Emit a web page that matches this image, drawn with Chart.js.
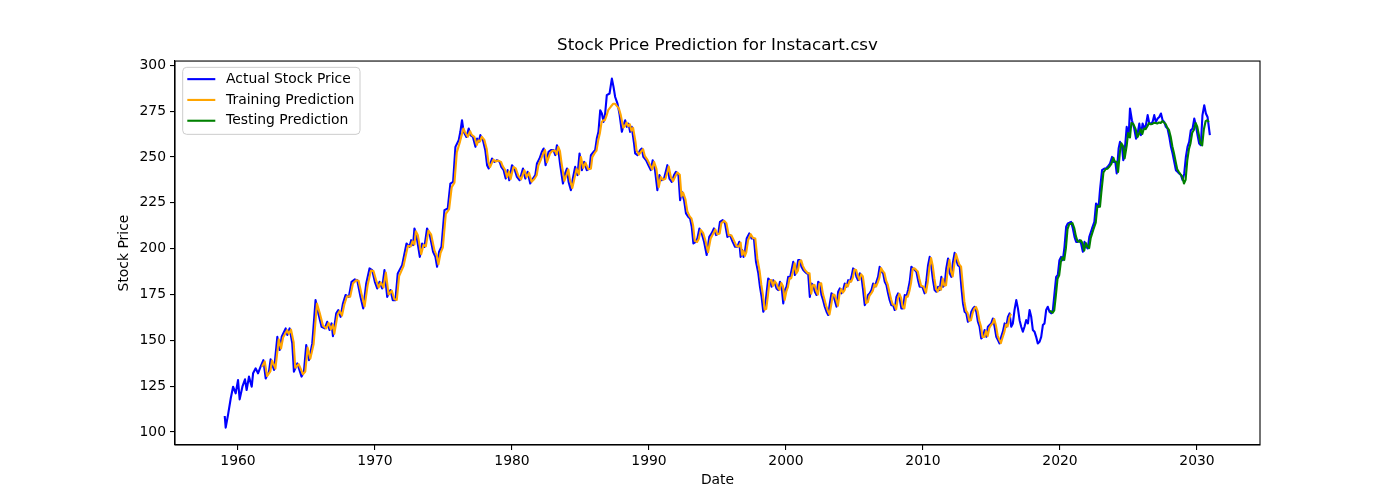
<!DOCTYPE html>
<html><head><meta charset="utf-8">
<script src="https://cdn.jsdelivr.net/npm/chart.js@4.4.1/dist/chart.umd.min.js"></script>
<style>html,body{margin:0;padding:0;background:#fff;}#wrap{width:1400px;height:500px;}</style>
</head><body><div id="wrap"><canvas id="c" width="1400" height="500"></canvas></div>
<script>
const chartTitle = 'Stock Price Prediction for Instacart.csv';
const xLabel = 'Date';
const yLabel = 'Stock Price';
const seriesLabels = ['Actual Stock Price', 'Training Prediction', 'Testing Prediction'];
const xTicks = [1960, 1970, 1980, 1990, 2000, 2010, 2020, 2030];
const yTicks = [100, 125, 150, 175, 200, 225, 250, 275, 300];

const actualYears = [1959.03,1959.10,1959.27,1959.47,1959.64,1959.83,1960.00,1960.12,1960.32,1960.51,1960.63,1960.80,1961.00,1961.10,1961.29,1961.46,1961.65,1961.85,1962.02,1962.26,1962.38,1962.63,1962.87,1963.04,1963.19,1963.48,1963.60,1963.77,1963.96,1964.08,1964.33,1964.64,1964.81,1964.98,1965.18,1965.42,1965.66,1965.86,1966.10,1966.34,1966.51,1966.68,1966.83,1966.93,1967.17,1967.32,1967.49,1967.66,1967.85,1968.09,1968.29,1968.53,1968.70,1968.94,1969.14,1969.36,1969.60,1969.79,1969.99,1970.16,1970.33,1970.52,1970.69,1970.89,1971.13,1971.30,1971.49,
1971.66,1971.98,1972.30,1972.51,1972.64,1972.78,1972.88,1973.02,1973.27,1973.44,1973.61,1973.80,1974.00,1974.24,1974.41,1974.53,1974.68,1974.85,1975.07,1975.31,1975.50,1975.70,1975.87,1976.11,1976.23,1976.35,1976.47,1976.67,1976.84,1976.96,1977.15,1977.33,1977.45,1977.57,1977.69,1977.88,1978.05,1978.18,1978.30,1978.54,1978.71,1978.90,1979.10,1979.22,1979.39,1979.54,1979.68,1979.80,1980.00,1980.17,1980.36,1980.56,1980.80,1980.97,1981.14,1981.33,1981.53,1981.70,1981.82,1982.01,1982.18,1982.31,1982.45,1982.67,1982.84,1983.03,1983.16,1983.28,1983.40,1983.52,
1983.72,1983.88,1984.01,1984.13,1984.30,1984.44,1984.61,1984.78,1984.93,1985.10,1985.27,1985.46,1985.66,1985.76,1985.95,1986.07,1986.19,1986.31,1986.44,1986.56,1986.68,1986.80,1986.92,1987.12,1987.29,1987.41,1987.53,1987.70,1987.84,1988.02,1988.14,1988.26,1988.38,1988.50,1988.62,1988.74,1988.91,1988.99,1989.16,1989.35,1989.47,1989.59,1989.79,1989.96,1990.13,1990.27,1990.44,1990.61,1990.76,1990.93,1991.10,1991.25,1991.34,1991.49,1991.66,1991.83,1991.97,1992.15,1992.27,1992.39,1992.56,1992.70,1992.87,1993.00,1993.12,1993.24,1993.41,1993.53,1993.68,1993.85,1994.02,1994.21,1994.40,1994.57,1994.74,1994.89,1995.06,1995.18,1995.38,1995.55,1995.72,1995.91,1996.11,1996.28,1996.45,1996.59,1996.69,1996.80,1996.90,1997.00,
1997.13,1997.32,1997.49,1997.66,1997.81,1997.98,1998.10,1998.22,1998.34,1998.46,1998.58,1998.70,1998.83,1998.95,1999.07,1999.19,1999.31,1999.43,1999.56,1999.68,1999.80,1999.92,2000.04,2000.16,2000.28,2000.41,2000.53,2000.65,2000.77,2000.89,2001.01,2001.13,2001.26,2001.38,2001.50,2001.62,2001.74,2001.86,2001.98,2002.11,2002.23,2002.35,2002.47,2002.59,2002.71,2002.83,2002.96,2003.08,2003.20,2003.32,2003.44,2003.56,2003.69,2003.81,2003.93,2004.05,2004.17,2004.29,2004.41,2004.54,2004.66,2004.78,2004.90,2005.02,2005.14,2005.26,2005.39,2005.51,2005.63,2005.75,2005.87,2005.99,2006.11,2006.24,2006.36,2006.48,2006.60,2006.72,2006.84,2006.97,2007.09,2007.21,2007.33,2007.45,2007.57,2007.69,2007.82,2007.94,2008.06,2008.18,2008.30,2008.42,2008.54,2008.67,2008.79,2008.91,2009.03,2009.15,2009.27,2009.40,2009.52,2009.64,2009.76,
2009.95,2010.12,2010.25,2010.37,2010.49,2010.61,2010.73,2010.85,2010.97,2011.10,2011.22,2011.34,2011.46,2011.58,2011.70,2011.83,2011.95,2012.07,2012.19,2012.31,2012.43,2012.55,2012.68,2012.80,2012.92,2013.04,2013.16,2013.28,2013.40,2013.53,2013.65,2013.77,2013.89,2014.01,2014.13,2014.25,2014.38,2014.50,2014.62,2014.74,2014.86,2014.98,2015.10,2015.23,2015.35,2015.47,2015.59,2015.71,2015.83,2015.96,2016.08,2016.20,2016.32,2016.44,2016.56,2016.68,2016.81,2016.93,2017.05,2017.17,2017.29,2017.41,2017.53,2017.66,2017.78,2017.90,2018.02,2018.14,2018.26,2018.38,2018.51,2018.63,2018.75,2018.87,2018.99,2019.11,2019.23,2019.36,2019.48,2019.60,2019.72,2019.84,2019.96,2020.08,2020.21,2020.33,2020.45,2020.57,2020.69,2020.81,2020.94,2021.06,2021.18,2021.30,2021.42,2021.54,2021.67,2021.79,2021.91,2022.03,
2022.14,2022.34,2022.51,2022.63,2022.82,2022.92,2023.07,2023.24,2023.36,2023.48,2023.65,2023.80,2023.89,2024.04,2024.14,2024.28,2024.38,2024.53,2024.62,2024.77,2024.87,2025.01,2025.11,2025.25,2025.42,2025.55,2025.67,2025.79,2025.91,2026.03,2026.15,2026.27,2026.40,2026.52,2026.64,2026.76,2026.88,2027.00,2027.13,2027.25,2027.37,2027.49,2027.61,2027.73,2027.85,2027.98,2028.10,2028.22,2028.34,2028.46,2028.58,2028.70,2028.83,2028.95,2029.07,2029.19,2029.31,2029.43,2029.55,2029.68,2029.80,2029.92,2030.04,2030.16,2030.28,2030.40,2030.53,2030.65,2030.77,2030.94];
const actualPrices = [108.7,102.4,109.3,118.4,124.7,121.1,128.3,117.8,124.7,128.7,122.9,130.2,124.7,132.0,134.7,132.0,135.6,139.2,129.2,132.9,139.6,133.8,151.9,144.7,151.9,156.5,152.9,156.5,148.3,132.9,137.4,130.2,132.9,147.4,139.2,148.3,171.9,164.7,157.4,156.5,160.1,155.6,159.2,152.3,164.7,166.5,162.8,170.1,174.7,173.7,181.9,183.2,182.8,173.7,167.4,181.0,189.2,188.3,181.9,178.3,181.9,178.3,188.3,173.7,177.4,171.9,171.9,
186.5,191.0,202.8,201.0,204.6,201.9,211.0,207.4,195.5,202.8,201.0,211.0,207.4,198.3,195.5,190.1,198.3,201.0,221.0,221.9,235.5,236.4,255.5,259.1,263.7,270.0,263.7,260.9,265.5,261.9,260.9,255.5,260.0,258.2,261.9,259.1,253.7,245.5,243.7,249.1,247.3,248.2,247.3,244.6,242.8,238.2,242.8,237.3,245.5,243.7,239.1,237.3,243.7,238.2,241.9,235.5,238.2,240.1,246.4,249.1,252.8,254.6,245.5,252.8,253.7,253.7,251.0,256.4,252.8,245.5,
235.5,241.0,243.7,236.4,231.9,238.2,244.6,240.1,251.9,242.8,247.3,242.8,243.7,251.0,252.8,253.7,260.0,263.7,275.5,273.7,269.1,273.7,283.7,284.6,292.7,288.2,282.7,279.1,273.7,263.7,267.3,270.0,266.4,268.2,263.7,266.4,257.3,251.9,251.0,253.7,254.6,250.0,248.2,245.5,242.8,248.2,242.8,231.9,240.1,237.3,238.2,242.8,245.5,238.2,236.4,240.1,241.9,240.1,226.4,231.0,226.4,219.2,217.3,216.4,211.9,202.8,203.7,205.5,211.0,208.3,203.7,196.5,206.4,208.3,211.0,207.4,208.3,214.6,215.5,213.7,206.4,207.4,203.7,201.0,201.0,203.7,195.5,199.2,195.5,198.3,
205.5,208.3,205.5,205.5,192.8,186.5,179.2,173.7,165.6,167.4,175.6,183.7,182.8,179.2,182.8,181.0,178.3,177.4,181.9,179.2,170.1,177.4,179.2,184.6,183.7,188.3,192.8,185.6,188.3,193.7,193.7,190.1,188.3,187.4,186.5,186.5,173.7,181.0,180.1,176.5,174.7,181.9,181.0,174.7,171.9,168.3,165.6,163.8,170.1,175.6,174.7,171.9,168.3,176.5,178.3,175.6,177.4,181.0,179.2,182.8,181.9,184.6,189.2,188.3,184.6,182.8,186.5,184.6,177.4,169.2,171.0,174.7,175.6,177.4,181.0,179.2,181.9,184.6,190.1,187.4,186.5,181.9,180.1,175.6,171.9,169.2,169.2,166.5,173.7,175.6,172.8,167.4,167.4,174.7,173.7,177.4,181.9,190.1,189.2,188.3,187.4,182.8,179.2,
179.2,175.6,182.8,191.0,195.5,190.1,182.8,177.4,176.5,179.2,177.4,184.6,179.2,180.1,189.2,194.6,186.5,184.6,192.8,197.7,193.7,191.0,190.1,179.2,170.1,165.6,164.7,160.1,161.0,165.6,167.4,168.3,165.6,160.1,157.4,151.0,151.9,155.6,151.9,157.4,158.3,159.2,161.9,157.4,151.9,150.1,148.3,151.9,154.7,159.2,157.4,162.8,164.7,157.4,159.2,166.5,171.9,167.4,161.0,157.4,154.7,157.4,161.0,159.2,166.5,162.8,155.6,154.7,151.9,148.3,149.2,151.9,158.3,159.2,166.5,168.3,165.6,164.7,166.5,175.6,184.6,185.6,193.7,195.5,193.7,201.0,211.9,213.7,214.1,214.6,211.0,206.4,203.7,203.7,204.6,202.8,198.3,203.7,201.0,200.1,
206.4,211.0,214.6,224.6,222.8,231.9,242.8,243.7,243.7,244.6,246.4,250.0,247.3,247.3,241.0,254.6,258.2,255.5,248.2,257.3,266.4,260.9,276.4,270.0,265.5,260.0,262.8,268.2,261.9,268.2,265.5,267.3,272.8,268.2,268.2,269.1,272.8,269.1,270.9,271.8,273.7,270.0,269.1,266.4,265.5,260.9,255.5,251.9,247.3,242.8,241.9,241.0,240.1,237.3,241.0,250.0,255.5,258.2,264.6,265.5,270.9,267.3,261.9,257.3,256.4,272.8,278.2,273.7,271.8,261.9];

const trainYears = [1961.75,1961.95,1962.12,1962.36,1962.48,1962.73,1962.97,1963.14,1963.29,1963.58,1963.70,1963.87,1964.06,1964.18,1964.43,1964.74,1964.91,1965.08,1965.28,1965.52,1965.76,1965.96,1966.20,1966.44,1966.61,1966.78,1966.93,1967.03,1967.27,1967.42,1967.59,1967.76,1967.95,1968.19,1968.39,1968.63,1968.80,1969.04,1969.24,1969.46,1969.70,1969.89,1970.09,1970.26,1970.43,1970.62,1970.79,1970.99,1971.23,1971.40,1971.59,1971.76,1972.08,1972.40,1972.61,1972.74,1972.88,1972.98,1973.12,1973.37,1973.54,1973.71,1973.90,1974.10,1974.34,1974.51,1974.63,1974.78,1974.95,1975.17,1975.41,1975.60,1975.80,1975.97,1976.21,1976.33,1976.45,1976.57,1976.77,1976.94,1977.06,1977.25,1977.43,1977.55,1977.67,1977.79,1977.98,1978.15,1978.28,1978.40,1978.64,1978.81,1979.00,1979.20,1979.32,1979.49,1979.64,1979.78,1979.90,1980.10,1980.27,1980.46,1980.66,1980.90,1981.07,1981.24,1981.43,1981.63,1981.80,1981.92,1982.11,1982.28,1982.41,1982.55,1982.77,1982.94,1983.13,1983.26,1983.38,1983.50,1983.62,
1983.82,1983.98,1984.11,1984.23,1984.40,1984.54,1984.71,1984.88,1985.03,1985.20,1985.37,1985.56,1985.76,1985.86,1986.05,1986.17,1986.29,1986.41,1986.54,1986.66,1986.78,1986.90,1987.02,1987.22,1987.39,1987.51,1987.63,1987.80,1987.94,1988.12,1988.24,1988.36,1988.48,1988.60,1988.72,1988.84,1989.01,1989.09,1989.26,1989.45,1989.57,1989.69,1989.89,1990.06,1990.23,1990.37,1990.54,1990.71,1990.86,1991.03,1991.20,1991.35,1991.44,1991.59,1991.76,1991.93,1992.07,1992.25,1992.37,1992.49,1992.66,1992.80,1992.97,1993.10,1993.22,1993.34,1993.51,1993.63,1993.78,1993.95,1994.12,1994.31,1994.50,1994.67,1994.84,1994.99,1995.16,1995.28,1995.48,1995.65,1995.82,1996.01,1996.21,1996.38,1996.55,1996.69,1996.79,1996.90,1997.00,1997.10,
1997.23,1997.42,1997.59,1997.76,1997.91,1998.08,1998.20,1998.32,1998.44,1998.56,1998.68,1998.80,1998.93,1999.05,1999.17,1999.29,1999.41,1999.53,1999.66,1999.78,1999.90,2000.02,2000.14,2000.26,2000.38,2000.51,2000.63,2000.75,2000.87,2000.99,2001.11,2001.23,2001.36,2001.48,2001.60,2001.72,2001.84,2001.96,2002.08,2002.21,2002.33,2002.45,2002.57,2002.69,2002.81,2002.93,2003.06,2003.18,2003.30,2003.42,2003.54,2003.66,2003.79,2003.91,2004.03,2004.15,2004.27,2004.39,2004.51,2004.64,2004.76,2004.88,2005.00,2005.12,2005.24,2005.36,2005.49,2005.61,2005.73,2005.85,2005.97,2006.09,2006.21,2006.34,2006.46,2006.58,2006.70,2006.82,2006.94,2007.07,2007.19,2007.31,2007.43,2007.55,2007.67,2007.79,2007.92,2008.04,2008.16,2008.28,2008.40,2008.52,2008.64,2008.77,2008.89,2009.01,2009.13,2009.25,2009.37,2009.50,2009.62,2009.74,2009.86,
2010.05,2010.22,2010.35,2010.47,2010.59,2010.71,2010.83,2010.95,2011.07,2011.20,2011.32,2011.44,2011.56,2011.68,2011.80,2011.93,2012.05,2012.17,2012.29,2012.41,2012.53,2012.65,2012.78,2012.90,2013.02,2013.14,2013.26,2013.38,2013.50,2013.63,2013.75,2013.87,2013.99,2014.11,2014.23,2014.35,2014.48,2014.60,2014.72,2014.84,2014.96,2015.08,2015.20,2015.33,2015.45,2015.57,2015.69,2015.81,2015.93,2016.06,2016.18,2016.30,2016.42];
const trainPrices = [135.6,138.5,130.5,133.0,139.0,134.5,150.5,145.5,151.5,155.5,153.5,155.8,149.0,135.0,137.0,131.5,133.0,146.0,140.0,148.0,170.0,165.0,158.0,156.5,159.5,156.0,158.5,153.5,164.0,166.0,163.5,169.5,174.0,173.8,181.0,182.8,182.5,174.5,168.5,180.0,188.0,187.8,182.5,178.8,181.5,178.8,187.0,175.0,177.0,172.5,172.0,185.0,190.5,201.5,201.2,204.0,202.3,209.5,207.5,197.0,202.0,201.3,209.8,207.6,199.0,196.0,191.5,197.5,200.5,219.0,221.5,233.5,236.0,252.5,258.5,262.0,265.5,263.5,261.0,264.0,262.0,261.0,256.5,259.0,258.5,261.0,259.3,254.5,247.0,244.5,248.5,247.5,248.0,247.3,245.0,243.0,239.0,242.0,238.0,244.5,243.8,239.8,237.8,242.8,239.0,241.3,236.5,238.0,240.0,245.3,248.6,252.0,253.8,247.0,251.8,253.3,253.5,251.5,255.5,253.2,246.5,
237.0,240.2,243.2,237.5,233.0,237.5,243.5,240.5,250.0,244.0,246.8,243.3,243.6,249.8,252.3,253.5,259.0,262.8,269.0,270.0,270.0,272.5,275.5,277.5,279.0,279.0,278.0,276.5,272.8,266.0,266.8,268.8,266.8,267.8,264.3,265.8,258.5,253.5,251.2,253.2,254.2,250.6,248.4,245.9,243.2,247.3,243.5,233.5,239.0,237.6,238.1,242.1,244.8,239.2,236.8,239.6,241.5,240.3,228.5,230.5,226.9,220.3,217.6,216.5,212.6,204.2,203.6,205.2,210.2,208.6,204.3,198.0,205.5,208.0,210.5,207.8,208.3,213.8,215.2,213.9,207.3,207.3,204.2,201.4,201.0,203.2,196.6,198.7,196.0,198.0,
204.5,207.9,205.8,205.5,194.5,187.5,180.2,174.5,166.7,167.2,174.5,182.5,182.9,179.7,182.3,181.2,178.7,177.5,181.3,179.5,172.0,176.5,179.0,183.9,183.8,187.7,192.0,186.5,188.0,193.0,193.6,190.6,188.6,187.5,186.6,186.5,175.4,180.0,180.2,177.0,175.0,181.0,181.1,175.5,172.3,168.8,166.0,164.1,169.3,174.9,174.8,172.3,168.8,175.4,178.0,176.0,177.2,180.5,179.4,182.3,182.0,184.2,188.6,188.3,185.1,183.0,186.0,184.8,178.3,170.3,170.8,174.2,175.4,177.1,180.5,179.4,181.6,184.2,189.4,187.7,186.6,182.5,180.3,176.2,172.4,169.5,169.2,166.9,172.8,175.3,173.1,168.1,167.4,173.8,173.8,176.9,181.3,189.0,189.3,188.4,187.5,183.4,179.7,
179.2,176.0,181.9,189.9,194.9,190.7,183.7,178.1,176.6,178.9,177.6,183.7,179.8,180.0,188.0,193.9,187.5,184.8,191.8,197.0,194.1,191.4,190.2,180.6,171.2,166.2,164.8,160.7,160.9,165.0,167.2,168.2,165.9,160.8,157.7,151.8,151.8,155.1,152.3,156.7,158.2,159.1,161.6,157.9,152.6,150.3,148.5,151.5,154.3,158.6,157.6,162.1,164.4];

const testYears = [2019.23,2019.33,2019.46,2019.58,2019.70,2019.82,2019.94,2020.06,2020.18,2020.31,2020.43,2020.55,2020.67,2020.79,2020.91,2021.04,2021.16,2021.28,2021.40,2021.52,2021.64,2021.77,2021.89,2022.01,2022.13,2022.24,2022.44,2022.61,2022.73,2022.92,2023.02,2023.17,2023.34,2023.46,2023.58,2023.75,2023.90,2023.99,2024.14,2024.24,2024.38,2024.48,2024.63,2024.72,2024.87,2024.97,2025.11,2025.21,2025.35,2025.52,2025.65,2025.77,2025.89,2026.01,2026.13,2026.25,2026.37,2026.50,2026.62,2026.74,2026.86,2026.98,2027.10,2027.23,2027.35,2027.47,2027.59,2027.71,2027.83,2027.95,2028.08,2028.20,2028.32,2028.44,2028.56,2028.68,2028.80,2028.93,2029.05,2029.17,2029.29,2029.41,2029.53,2029.65,2029.78,2029.90,2030.02,2030.14,2030.26,2030.38,2030.50,2030.63,2030.75,2030.87];
const testPrices = [166.0,165.8,165.0,166.3,174.5,183.5,185.4,192.7,195.2,193.9,200.1,210.6,213.2,213.6,213.9,211.2,206.8,204.0,203.7,204.5,203.0,198.9,203.0,201.2,200.3,205.7,210.5,214.2,223.3,222.9,230.8,241.5,243.4,243.6,244.5,246.2,249.5,247.5,247.3,241.8,253.0,257.5,255.6,249.2,256.2,263.0,260.6,268.5,268.0,265.2,260.8,262.5,265.0,262.5,265.5,265.2,266.6,268.5,267.8,268.0,268.6,268.5,268.2,268.8,268.5,269.5,268.8,268.0,266.0,264.8,261.0,255.8,252.0,247.6,243.2,241.8,240.5,239.2,235.5,237.5,248.0,254.2,257.5,263.2,264.8,268.5,266.5,262.0,257.5,256.3,265.0,269.5,270.0,269.1];

const seriesColors = ['#0000ff', '#ffa500', '#008000'];
const FONT = "'DejaVu Sans', Verdana, sans-serif";
Chart.defaults.font.family = FONT;
Chart.defaults.color = '#000';

const toPts = (xs, ys) => xs.map((x, i) => ({ x: x, y: ys[i] }));

const frameAndLegend = {
  id: 'frameAndLegend',
  afterDatasetsDraw(chart) {
    const { ctx, chartArea: a } = chart;
    ctx.save();
    ctx.strokeStyle = '#000';
    ctx.lineWidth = 1.1;
    ctx.strokeRect(a.left, a.top, a.right - a.left, a.bottom - a.top);
    ctx.restore();
  },
  afterDraw(chart) {
    const { ctx, chartArea: a } = chart;
    const bx = a.left + 7.7, by = a.top + 6.3, bw = 177.3, bh = 67, r = 4;
    ctx.save();
    ctx.beginPath();
    ctx.moveTo(bx + r, by);
    ctx.arcTo(bx + bw, by, bx + bw, by + bh, r);
    ctx.arcTo(bx + bw, by + bh, bx, by + bh, r);
    ctx.arcTo(bx, by + bh, bx, by, r);
    ctx.arcTo(bx, by, bx + bw, by, r);
    ctx.closePath();
    ctx.fillStyle = 'rgba(255,255,255,0.8)';
    ctx.fill();
    ctx.strokeStyle = '#cccccc';
    ctx.lineWidth = 1;
    ctx.stroke();
    ctx.font = '13.9px ' + FONT;
    ctx.textBaseline = 'middle';
    ctx.textAlign = 'left';
    chart.data.datasets.forEach((ds, i) => {
      const y = by + 11.8 + i * 20.8;
      ctx.strokeStyle = ds.borderColor;
      ctx.lineWidth = 2.1;
      ctx.beginPath();
      ctx.moveTo(bx + 4.6, y);
      ctx.lineTo(bx + 32.6, y);
      ctx.stroke();
      ctx.fillStyle = '#000';
      ctx.fillText(ds.label, bx + 43.4, y);
    });
    ctx.restore();
  }
};

const tickFont = { size: 13.9 };
new Chart(document.getElementById('c'), {
  type: 'line',
  data: {
    datasets: [
      { label: seriesLabels[0], data: toPts(actualYears, actualPrices), borderColor: seriesColors[0], order: 3 },
      { label: seriesLabels[1], data: toPts(trainYears, trainPrices), borderColor: seriesColors[1], order: 2 },
      { label: seriesLabels[2], data: toPts(testYears, testPrices), borderColor: seriesColors[2], order: 1 }
    ]
  },
  options: {
    responsive: false,
    animation: false,
    events: [],
    elements: { line: { borderWidth: 2.1, tension: 0, fill: false, borderJoinStyle: 'round', borderCapStyle: 'butt' }, point: { radius: 0 } },
    layout: { padding: { top: 36, left: 0, right: 140, bottom: 0 } },
    plugins: {
      legend: { display: false },
      tooltip: { enabled: false },
      title: {
        display: true, text: chartTitle, fullSize: false, color: '#000',
        font: { size: 16.7, weight: 'normal' }, padding: { top: 0, bottom: 5 }
      }
    },
    scales: {
      x: {
        type: 'linear', min: 1955.4, max: 2034.6,
        afterBuildTicks: s => { s.ticks = xTicks.map(v => ({ value: v })); },
        afterFit: s => { s.height = 55; },
        ticks: { font: tickFont, color: '#000', padding: 3, maxRotation: 0, autoSkip: false, callback: v => String(v) },
        grid: { drawOnChartArea: false, drawTicks: true, tickLength: 5, color: '#000', tickColor: '#000', lineWidth: 1.1 },
        border: { display: true, color: '#000', width: 1.1 },
        title: { display: true, text: xLabel, color: '#000', font: tickFont, padding: { top: 0, bottom: 11 } }
      },
      y: {
        type: 'linear', min: 92.9, max: 302.3,
        afterBuildTicks: s => { s.ticks = yTicks.map(v => ({ value: v })); },
        afterFit: s => { s.width = 175; },
        ticks: { font: tickFont, color: '#000', padding: 4, autoSkip: false, callback: v => String(v) },
        grid: { drawOnChartArea: false, drawTicks: true, tickLength: 5, color: '#000', tickColor: '#000', lineWidth: 1.1 },
        border: { display: true, color: '#000', width: 1.1 },
        title: { display: true, text: yLabel, color: '#000', font: tickFont, padding: { top: 116.5, bottom: 0 } }
      }
    }
  },
  plugins: [frameAndLegend]
});
</script>
</body></html>
